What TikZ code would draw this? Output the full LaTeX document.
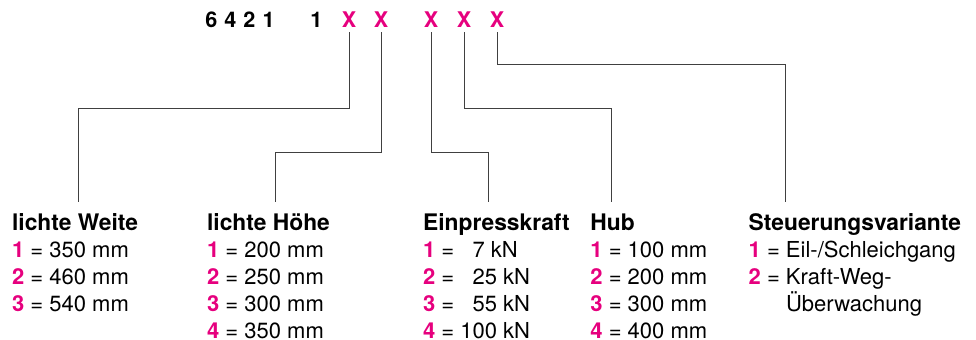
\documentclass[tikz,border=0pt]{standalone}
\usepackage{fontspec}
\setmainfont{TeX Gyre Heros}
\usepackage{xcolor}
\usetikzlibrary{positioning}
\definecolor{codepink}{RGB}{230,0,126}
\newcommand{\nr}[1]{\textcolor{codepink}{\textbf{#1}}}
\newcommand{\hd}[1]{{\fontsize{11.4}{13.5}\selectfont\bfseries #1}}

\begin{document}
\begin{tikzpicture}[x=0.5pt, y=-0.5pt,
digitnode/.style={anchor=base, inner sep=2.2pt, font=\fontsize{10.8}{12}\selectfont\bfseries},
xnode/.style={digitnode, text=codepink},
listnode/.style={anchor=north west, inner sep=0pt, align=left, font=\fontsize{11}{13.5}\selectfont},
lead/.style={draw=black!75, line width=0.5pt},
]
\useasboundingbox (0,0) rectangle (976,339);

%Nodes
\node[digitnode] (typ) at (240,27.3) {6\hspace{3.5pt}4\hspace{3.5pt}2\hspace{3.5pt}1};
\node[digitnode] (fix) at (316.5,27.3) {1};
\node[xnode] (x1) at (349,27.3) {X};
\node[xnode] (x2) at (381,27.3) {X};
\node[xnode] (x3) at (431,27.3) {X};
\node[xnode] (x4) at (464,27.3) {X};
\node[xnode] (x5) at (497,27.3) {X};

\node[listnode] (weite) at (11.7,213.5) {\hd{lichte Weite}\\
  \nr{1} = 350 mm\\ \nr{2} = 460 mm\\ \nr{3} = 540 mm};
\node[listnode] (hoehe) at (206.7,213.5) {\hd{lichte Höhe}\\
  \nr{1} = 200 mm\\ \nr{2} = 250 mm\\ \nr{3} = 300 mm\\ \nr{4} = 350 mm};
\node[listnode] (kraft) at (422.7,213.5) {\hd{Einpresskraft}\\
  \nr{1} = \phantom{0}7 kN\\ \nr{2} = \phantom{0}25 kN\\ \nr{3} = \phantom{0}55 kN\\ \nr{4} = 100 kN};
\node[listnode] (hub) at (590,213.5) {\hd{Hub}\\
  \nr{1} = 100 mm\\ \nr{2} = 200 mm\\ \nr{3} = 300 mm\\ \nr{4} = 400 mm};
\node[listnode] (steuer) at (748.3,213.5) {\hd{Steuerungsvariante}\\
  \nr{1} = Eil-/Schleichgang\\ \nr{2} = Kraft-Weg-\\ \phantom{\nr{2} = }Überwachung};

%Lines
\coordinate (weite-in)  at (78,202);
\coordinate (hoehe-in)  at (275,202);
\coordinate (kraft-in)  at (488,202);
\coordinate (hub-in)    at (611,202);
\coordinate (steuer-in) at (785,202);
\coordinate (lvl-top) at (0,64);
\coordinate (lvl-mid) at (0,108);
\coordinate (lvl-low) at (0,152);

\draw[lead] (x1.south) |- (weite-in |- lvl-mid) -- (weite-in);
\draw[lead] (x2.south) |- (hoehe-in |- lvl-low) -- (hoehe-in);
\draw[lead] (x3.south) |- (kraft-in |- lvl-low) -- (kraft-in);
\draw[lead] (x4.south) |- (hub-in |- lvl-mid) -- (hub-in);
\draw[lead] (x5.south) |- (steuer-in |- lvl-top) -- (steuer-in);
\end{tikzpicture}
\end{document}
